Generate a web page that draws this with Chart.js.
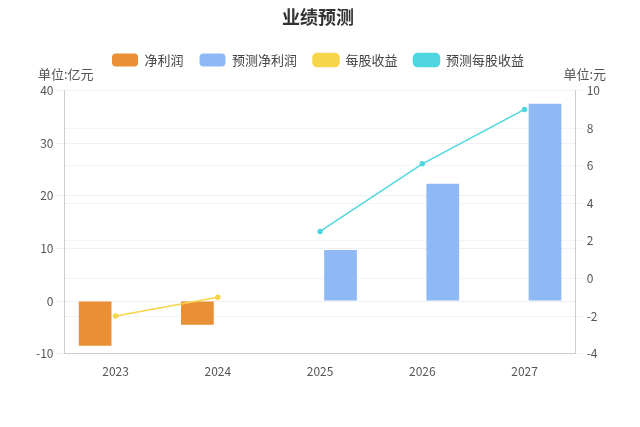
<!DOCTYPE html>
<html>
<head>
<meta charset="utf-8">
<script src="https://cdn.jsdelivr.net/npm/chart.js@4"></script>
<style>
  body { margin: 0; background: #fff; }
  #wrap { width: 640px; height: 427px; }
</style>
</head>
<body>
<div id="wrap"><canvas id="c"></canvas></div>
<script>
// chart values
const years = ['2023', '2024', '2025', '2026', '2027'];
const netProfit = [-8.5, -4.5, null, null, null];
const forecastProfit = [null, null, 9.7, 22.3, 37.5];
const eps = [-2.0, -1.0, null, null, null];
const forecastEps = [null, null, 2.5, 6.1, 9.0];

const FONT = "'Noto Sans CJK SC', 'Noto Sans', sans-serif";

// unit labels above the two axes
const unitLabels = {
  id: 'unitLabels',
  afterDraw(chart) {
    const ctx = chart.ctx;
    const area = chart.chartArea;
    ctx.save();
    ctx.font = '13px ' + FONT;
    ctx.fillStyle = '#555';
    ctx.textBaseline = 'bottom';
    ctx.textAlign = 'left';
    ctx.fillText('单位:亿元', 38, area.top - 10);
    ctx.textAlign = 'right';
    ctx.fillText('单位:元', 606, area.top - 10);
    ctx.restore();
  }
};

new Chart(document.getElementById('c'), {
  type: 'bar',
  data: {
    labels: years,
    datasets: [
      { label: '净利润', data: netProfit, backgroundColor: '#e98f36', yAxisID: 'y', order: 2 },
      { label: '预测净利润', data: forecastProfit, backgroundColor: '#8fb9f5', yAxisID: 'y', order: 2 },
      { label: '每股收益', type: 'line', data: eps, borderColor: '#f7d54a', backgroundColor: '#f7d54a',
        borderWidth: 1.5, pointRadius: 2, yAxisID: 'y1', order: 1 },
      { label: '预测每股收益', type: 'line', data: forecastEps, borderColor: '#4fd6e0', backgroundColor: '#4fd6e0',
        borderWidth: 1.5, pointRadius: 2, yAxisID: 'y1', order: 1 }
    ]
  },
  options: {
    responsive: true,
    maintainAspectRatio: false,
    animation: false,
    layout: { padding: { left: 33, right: 37, bottom: 45, top: 0 } },
    datasets: { bar: { categoryPercentage: 0.8, barPercentage: 0.8 } },
    plugins: {
      title: { display: true, text: '业绩预测', color: '#333', font: { family: FONT, size: 18, weight: 'bold' },
        padding: { top: 6, bottom: 10 } },
      legend: {
        labels: { font: { family: FONT, size: 13 }, color: '#444', boxWidth: 26, boxHeight: 13,
          useBorderRadius: true, borderRadius: 4, padding: 16,
          sort: (a, b) => a.datasetIndex - b.datasetIndex },
        padding: 0
      },
      tooltip: { enabled: false }
    },
    scales: {
      x: {
        grid: { display: false },
        border: { color: '#ccc' },
        ticks: { font: { family: FONT, size: 12 }, color: '#555' }
      },
      y: {
        position: 'left', min: -10, max: 40,
        ticks: { stepSize: 10, font: { family: FONT, size: 12 }, color: '#555' },
        grid: { color: '#eef0f4' },
        border: { color: '#ccc' }
      },
      y1: {
        position: 'right', min: -4, max: 10,
        ticks: { stepSize: 2, font: { family: FONT, size: 12 }, color: '#555' },
        grid: { drawOnChartArea: true, color: '#f2f4f8' },
        border: { color: '#ccc' }
      }
    }
  },
  plugins: [unitLabels, {
    id: 'legendGap',
    beforeInit(chart) {
      const fit = chart.legend.fit;
      chart.legend.fit = function () { fit.bind(chart.legend)(); this.height += 14; };
    }
  }]
});
</script>
</body>
</html>
